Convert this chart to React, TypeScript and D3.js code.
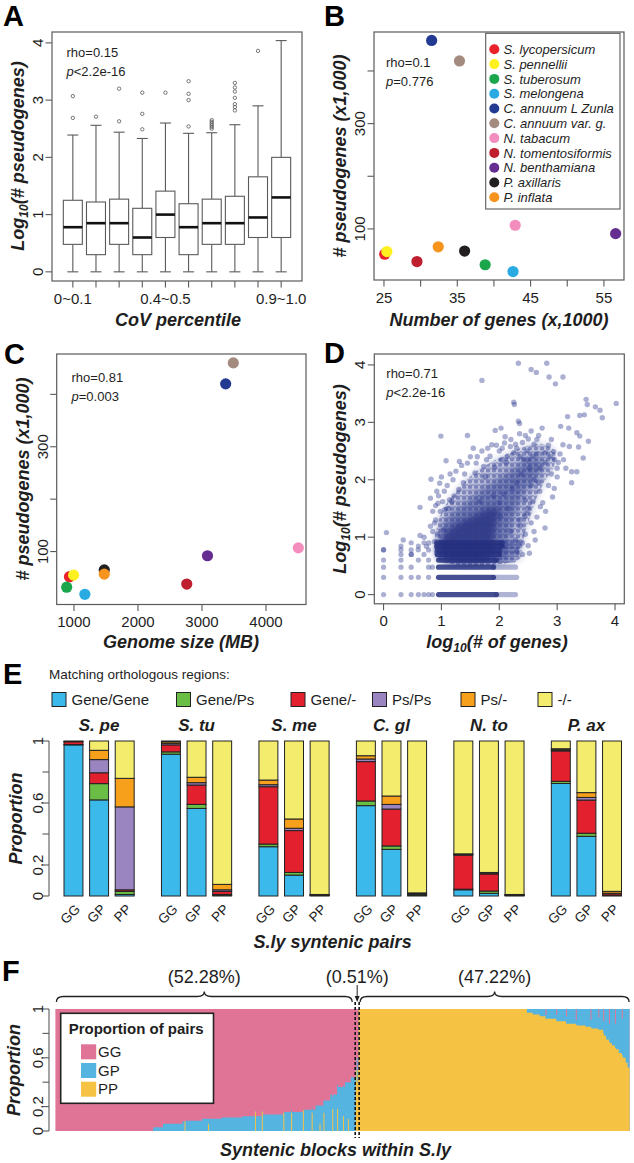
import React from 'react';
import * as d3 from 'd3';

const FONT = '"Liberation Sans", Arial, Helvetica, sans-serif';
const INK = '#1e1e1e';
const FRAME = '#5a5a5a';

// ---------------- Panel A ----------------
const covCats = ['0~0.1', '0.1~0.2', '0.2~0.3', '0.3~0.4', '0.4~0.5', '0.5~0.6', '0.6~0.7', '0.7~0.8', '0.8~0.9', '0.9~1.0'];
const covLabelIdx = [0, 4, 9];
const boxLow = [0, 0, 0, 0, 0, 0, 0, 0, 0, 0];
const boxQ1 = [0.48, 0.30, 0.48, 0.30, 0.60, 0.30, 0.48, 0.48, 0.60, 0.60];
const boxMedian = [0.78, 0.85, 0.85, 0.60, 1.00, 0.78, 0.85, 0.85, 0.95, 1.30];
const boxQ3 = [1.25, 1.22, 1.27, 1.11, 1.41, 1.19, 1.27, 1.32, 1.66, 2.00];
const boxHigh = [2.39, 2.56, 2.44, 2.33, 2.60, 2.42, 2.43, 2.57, 2.90, 4.04];
const boxOutliers = [
  [2.69, 3.07],
  [2.71],
  [2.63, 3.20],
  [2.49, 2.76, 3.13],
  [3.13],
  [2.54, 3.00, 3.11, 3.33],
  [2.50, 2.53, 2.56, 2.59, 2.62, 2.65],
  [2.82, 2.88, 2.93, 3.04, 3.15, 3.22, 3.30],
  [3.86],
  [],
];

// ---------------- Panels B, C ----------------
const species = ['S. lycopersicum', 'S. pennellii', 'S. tuberosum', 'S. melongena', 'C. annuum L Zunla', 'C. annuum var. g.', 'N. tabacum', 'N. tomentosiformis', 'N. benthamiana', 'P. axillaris', 'P. inflata'];
const speciesColors = ['#E8212B', '#FFF01F', '#1BA64C', '#29ABE2', '#233A92', '#A48B80', '#F28DBE', '#BE1E2D', '#652D90', '#231F20', '#F7941E'];
const geneCountK = [25.1, 25.4, 38.8, 42.6, 31.5, 35.3, 42.9, 29.5, 56.6, 36.0, 32.4];
const pseudogeneK = [52, 57, 32, 19, 458, 419, 107, 38, 91, 58, 66];
const genomeSizeMB = [930, 994, 886, 1170, 3370, 3489, 4505, 2762, 3086, 1473, 1473];
const pseudogeneKC = [52, 55, 32, 18.5, 420, 460, 107, 38, 92, 65, 57];

// ---------------- Panel D ----------------
const dScatter = [
  [2.33, 4.03], [2.82, 4.03], [2.55, 3.92], [2.64, 3.87], [2.86, 3.79], [3.10, 3.79], [2.97, 3.67], [1.70, 3.73],
  [4.02, 3.33], [3.50, 3.40], [3.52, 3.31], [3.66, 3.27], [3.74, 3.21], [3.78, 3.08], [2.25, 3.35], [2.26, 3.31],
  [2.33, 3.02], [2.35, 2.98], [3.18, 3.10], [3.39, 3.12], [3.47, 3.13], [0.99, 2.76], [1.45, 2.77], [1.93, 2.86],
  [2.03, 2.90], [2.45, 2.77], [2.68, 2.77], [2.74, 2.90], [3.06, 2.93], [3.20, 2.90], [3.34, 2.82], [3.39, 2.76],
  [3.54, 2.67], [3.37, 2.57], [3.21, 2.58], [3.10, 2.61], [1.87, 2.61], [2.09, 2.64], [2.19, 2.58], [2.30, 2.55],
  [2.50, 2.71], [1.08, 2.33], [0.63, 1.52], [0.05, 1.08], [0.34, 0.95], [0.63, 1.03], [0.82, 2.01], [0.97, 1.94],
  [0.92, 1.80], [0.81, 1.68], [0.94, 1.59], [1.05, 1.80], [1.14, 1.65], [1.30, 1.83], [1.31, 2.32], [1.45, 2.29],
  [1.60, 2.29], [1.73, 2.23], [1.84, 2.41], [2.04, 2.35], [2.14, 2.41], [2.25, 2.47], [2.42, 2.35], [2.58, 2.41],
  [2.79, 2.47], [2.94, 2.49], [3.11, 2.35], [3.25, 2.14], [3.34, 2.14], [3.45, 2.38], [3.25, 1.95], [2.79, 1.16],
  [2.71, 1.53], [2.50, 1.51], [2.02, 1.36], [1.73, 1.24], [1.44, 1.24], [1.04, 1.13],
  [0.0, 0.78], [0.81, 1.19], [0.85, 1.10], [0.74, 0.84], [0.88, 0.92], [0.90, 1.30], [0.70, 1.00], [0.78, 0.90],
  [0.85, 1.45], [0.60, 0.78], [0.48, 0.70], [0.30, 0.78], [0.90, 1.55], [0.95, 1.72], [1.00, 2.05], [1.20, 2.00],
  [1.10, 1.90], [1.25, 2.15], [1.40, 2.10], [1.50, 2.40], [1.55, 2.55], [1.70, 2.50], [1.80, 2.55], [1.95, 2.60],
  [2.00, 2.50], [2.10, 2.75], [2.20, 2.70], [2.35, 2.80], [2.40, 2.65], [2.55, 2.85], [2.60, 2.62], [2.65, 2.70],
  [2.85, 2.60], [2.90, 2.70], [2.95, 2.35], [3.00, 2.20], [3.05, 2.45], [2.90, 2.10], [2.85, 1.90], [2.95, 1.85],
  [3.00, 2.05], [2.70, 1.80], [2.75, 1.60], [2.65, 1.35], [2.55, 1.25], [2.45, 1.05], [2.60, 1.10], [2.40, 0.90],
  [2.50, 0.85], [2.30, 0.75], [2.40, 0.70], [2.35, 1.30], [2.20, 1.10], [2.28, 0.95], [2.15, 1.50], [2.00, 1.60],
  [2.45, 1.65], [2.55, 1.90], [2.30, 1.95], [2.60, 2.00], [2.70, 2.20], [2.80, 2.30], [2.65, 2.45], [2.50, 2.35],
  [1.15, 2.10], [1.35, 2.25], [1.62, 2.40], [1.78, 2.35], [2.05, 2.55], [2.28, 2.62], [2.48, 2.50], [2.88, 2.40],
  [3.02, 2.30], [3.15, 2.20], [2.92, 1.70], [2.80, 1.45], [2.62, 0.95], [0.98, 1.45], [1.02, 1.62], [0.88, 1.25],
  [1.12, 1.50], [1.22, 1.72], [1.38, 1.95], [1.58, 2.12], [1.76, 2.05], [1.92, 2.22], [2.12, 2.30], [2.36, 2.40],
  [2.52, 2.20], [2.38, 2.10], [2.22, 1.85], [2.08, 1.75], [1.90, 1.72], [1.66, 1.62], [2.48, 1.42], [2.36, 1.20],
  [2.52, 0.72], [2.44, 1.36], [0.93, 1.05], [0.95, 0.85], [1.06, 1.48], [1.18, 1.62], [2.58, 1.62], [2.68, 1.95],
];
const dCoreOuter = [[0.92, 0.62], [0.90, 1.05], [0.97, 1.35], [1.10, 1.60], [1.30, 1.85], [1.55, 2.10], [1.85, 2.30], [2.15, 2.45], [2.45, 2.58], [2.75, 2.62], [2.95, 2.50], [2.95, 2.25], [2.80, 2.00], [2.65, 1.70], [2.55, 1.40], [2.45, 1.10], [2.40, 0.85], [2.35, 0.62]];
const dCoreInner = [[0.97, 0.62], [0.97, 1.10], [1.10, 1.35], [1.35, 1.55], [1.65, 1.80], [1.95, 2.00], [2.25, 2.20], [2.55, 2.38], [2.75, 2.35], [2.70, 2.10], [2.45, 1.80], [2.30, 1.45], [2.20, 1.10], [2.15, 0.85], [2.10, 0.62]];
const dCoreDense = [[1.00, 0.62], [1.02, 1.00], [1.20, 1.20], [1.50, 1.35], [1.80, 1.50], [2.00, 1.50], [1.95, 1.20], [1.90, 0.90], [1.85, 0.62]];
const bandPseudoCount = [1, 2, 3, 4, 5, 6, 7, 8];
const bandDenseStart = [0.95, 0.95, 0.95, 0.95, 0.93, 0.93, 0.92, 0.92];
const bandDenseEnd = [1.95, 1.9, 1.9, 1.95, 2.0, 2.0, 2.05, 2.05];
const bandTailEnd = [2.28, 2.3, 2.28, 2.25, 2.3, 2.3, 2.35, 2.35];
const bandLowGenes = [[1, 2, 3, 4, 5, 6, 7], [1, 2, 3, 4, 6], [1, 2, 3, 6, 7], [1, 2, 4, 6], [2, 3, 5], [1, 3, 6], [2, 4], [3, 5]];

// ---------------- Panel E ----------------
const eCategories = ['Gene/Gene', 'Gene/Ps', 'Gene/-', 'Ps/Ps', 'Ps/-', '-/-'];
const eColors = ['#3CB9EB', '#6BBE45', '#E2202E', '#9B85C1', '#F6A01B', '#F3EC6C'];
const eGroups = ['S. pe', 'S. tu', 'S. me', 'C. gl', 'N. to', 'P. ax'];
const ePairs = ['GG', 'GP', 'PP'];
const eSpe = [[0.975, 0.002, 0.018, 0.002, 0.003, 0], [0.62, 0.105, 0.07, 0.085, 0.06, 0.06], [0.01, 0.02, 0.01, 0.535, 0.184, 0.241]];
const eStu = [[0.915, 0.015, 0.045, 0.01, 0.01, 0.005], [0.565, 0.026, 0.125, 0.015, 0.035, 0.234], [0.005, 0.005, 0.02, 0.01, 0.035, 0.925]];
const eSme = [[0.318, 0.017, 0.37, 0.013, 0.03, 0.252], [0.135, 0.017, 0.27, 0.015, 0.06, 0.503], [0.003, 0.001, 0.003, 0.001, 0.002, 0.99]];
const eCgl = [[0.583, 0.03, 0.254, 0.017, 0.021, 0.095], [0.301, 0.022, 0.238, 0.03, 0.054, 0.355], [0.005, 0.002, 0.005, 0.002, 0.006, 0.98]];
const eNto = [[0.04, 0.004, 0.22, 0.003, 0.005, 0.728], [0.017, 0.015, 0.11, 0.005, 0.005, 0.848], [0.003, 0.001, 0.003, 0.001, 0.002, 0.99]];
const ePax = [[0.726, 0.014, 0.196, 0.007, 0.007, 0.05], [0.385, 0.02, 0.214, 0.017, 0.031, 0.333], [0.003, 0.002, 0.01, 0.003, 0.012, 0.97]];

// ---------------- Panel F ----------------
const fCategories = ['GG', 'GP', 'PP'];
const fColors = ['#E07497', '#56B4E1', '#F6C244'];
const fSectionLabels = ['(52.28%)', '(0.51%)', '(47.22%)'];
// runs: [number of blocks, GP proportion, PP proportion]; GG = remainder
const fLeftRuns = [
  [100, 0, 0], [10, 0.03, 0], [20, 0.06, 0], [2, 0.08, 0], [1, 0, 0.08], [17, 0.085, 0],
  [6, 0.1, 0], [1, 0.04, 0.06], [13, 0.1, 0], [21, 0.11, 0], [13, 0.12, 0], [1, 0, 0.16], [6, 0.12, 0], [1, 0, 0.16],
  [21, 0.135, 0], [1, 0, 0.15], [7, 0.155, 0], [1, 0.02, 0.15], [11, 0.155, 0], [1, 0, 0.17], [8, 0.175, 0],
  [1, 0.04, 0.15], [3, 0.175, 0], [4, 0.21, 0], [1, 0.15, 0.06], [3, 0.21, 0], [1, 0.1, 0.15], [6, 0.25, 0],
  [2, 0.3, 0], [1, 0.1, 0.18], [4, 0.3, 0], [1, 0.2, 0.18], [5, 0.36, 0], [1, 0.25, 0.12], [1, 0.36, 0],
  [3, 0.4, 0], [1, 0.3, 0.1], [2, 0.4, 0], [5, 0.44, 0],
];
const fMidRuns = [[1, 0, 0.5], [1, 0.2, 0.4], [1, 0, 0.5]];
const fRightRuns = [
  [172, 0, 1], [6, 0.03, 0.97], [7, 0.045, 0.955], [6, 0.06, 0.94], [1, 0.03, 0.92], [10, 0.08, 0.92],
  [1, 0.05, 0.9], [9, 0.1, 0.9], [1, 0.06, 0.88], [9, 0.12, 0.88], [1, 0.04, 0.87], [9, 0.135, 0.865],
  [5, 0.145, 0.855], [1, 0.06, 0.85], [7, 0.16, 0.84], [1, 0.1, 0.83], [4, 0.17, 0.83], [1, 0.1, 0.8],
  [2, 0.22, 0.78], [3, 0.25, 0.75], [1, 0.15, 0.73], [2, 0.28, 0.72], [3, 0.3, 0.7], [1, 0.2, 0.68],
  [3, 0.33, 0.67], [3, 0.36, 0.64], [1, 0.3, 0.62], [3, 0.4, 0.6], [2, 0.44, 0.56], [2, 0.48, 0.52],
];

// ---------------- helpers ----------------
function YAxis({ scale, x, ticks, labels, gap = 9, size = 15, line = false }: any) {
  return (
    <g>
      {line && <line x1={x} x2={x} y1={scale(ticks[0])} y2={scale(ticks[ticks.length - 1])} stroke={FRAME} strokeWidth={1.1} />}
      {ticks.map((t: number, i: number) => (
        <line key={i} x1={x} x2={x - 6.5} y1={scale(t)} y2={scale(t)} stroke={FRAME} strokeWidth={1.1} />
      ))}
      {labels.map((l: any, i: number) => (
        <text key={'l' + i} transform={`translate(${x - gap},${scale(l[0])}) rotate(-90)`} textAnchor="middle" fontSize={size} fill={INK}>{l[1]}</text>
      ))}
    </g>
  );
}

function XAxis({ scale, y, ticks, labels, off = 22.5, size = 15 }: any) {
  return (
    <g>
      {ticks.map((t: number, i: number) => (
        <line key={i} x1={scale(t)} x2={scale(t)} y1={y} y2={y + 6.5} stroke={FRAME} strokeWidth={1.1} />
      ))}
      {labels.map((l: any, i: number) => (
        <text key={'l' + i} x={scale(l[0])} y={y + off} textAnchor="middle" fontSize={size} fill={INK}>{l[1]}</text>
      ))}
    </g>
  );
}

function Frame({ x0, x1, y0, y1 }: any) {
  return <rect x={x0} y={y0} width={x1 - x0} height={y1 - y0} fill="none" stroke={FRAME} strokeWidth={1.2} />;
}

function Title({ x, y, children, rotate = false, size = 18 }: any) {
  return (
    <text transform={`translate(${x},${y})${rotate ? ' rotate(-90)' : ''}`} textAnchor="middle" fontSize={size} fontWeight="bold" fontStyle="italic" fill={INK}>{children}</text>
  );
}

function Stat({ x, y, a, b, sep }: any) {
  return (
    <g fontSize={13} fill={INK}>
      <text x={x} y={y}>{a}</text>
      <text x={x} y={y + 19}><tspan fontStyle="italic">p</tspan>{sep}{b}</text>
    </g>
  );
}

function expandRuns(runs: number[][]) {
  return runs.map(r => ({ n: r[0], gp: r[1], pp: r[2] }));
}

function brace(x1: number, x2: number, xm: number, yb: number, ym: number, yt: number) {
  const r = 7;
  return `M${x1},${yb} Q${x1},${ym} ${x1 + r},${ym} L${xm - r},${ym} Q${xm},${ym} ${xm},${yt} Q${xm},${ym} ${xm + r},${ym} L${x2 - r},${ym} Q${x2},${ym} ${x2},${yb}`;
}

export default function App() {
  const W = 634, H = 1163;

  const xA = d3.scaleLinear().domain([0.1, 10.9]).range([52, 302]);
  const yA = d3.scaleLinear().domain([-0.16, 4.19]).range([281, 32]);
  const xB = d3.scaleLinear().domain([23.64, 57.74]).range([374, 624]);
  const yB = d3.scaleLinear().domain([3, 474]).range([280, 32]);
  const xC = d3.scaleLinear().domain([730, 4625]).range([56.7, 306]);
  const yC = d3.scaleLinear().domain([-1, 477]).range([604.5, 354]);
  const xD = d3.scaleLinear().domain([-0.16, 4.16]).range([374.3, 624.3]);
  const yD = d3.scaleLinear().domain([-0.16, 4.19]).range([603.8, 354]);

  const xE = d3.scaleBand<string>().domain(eGroups).range([64, 621.5]).paddingInner(0.28).paddingOuter(0);
  const xEi = d3.scaleBand<string>().domain(ePairs).range([0, xE.bandwidth()]).paddingInner(0.26);
  const yE = d3.scaleLinear().domain([0, 1]).range([896, 741]);
  const eData = [eSpe, eStu, eSme, eCgl, eNto, ePax];

  const fRuns = [...expandRuns(fLeftRuns), ...expandRuns(fMidRuns), ...expandRuns(fRightRuns)];
  const nLeft = d3.sum(fLeftRuns, r => r[0]);
  const nMid = d3.sum(fMidRuns, r => r[0]);
  const nTotal = d3.sum(fRuns, r => r.n);
  const xF = d3.scaleBand<number>().domain(d3.range(nTotal)).range([55.4, 629.6]).padding(0);
  const yF = d3.scaleLinear().domain([0, 1]).range([1131, 1009]);
  const stepF = xF.step();
  let fStart = 0;
  const fSteps: any[] = [];
  fRuns.forEach(r => {
    fSteps.push({ x: xF(fStart) as number, pp: r.pp, top: r.pp + r.gp });
    fStart += r.n;
  });
  const lastF = fSteps[fSteps.length - 1];
  fSteps.push({ x: xF.range()[1], pp: lastF.pp, top: lastF.top });
  const areaGP = d3.area<any>().x(d => d.x).y0(yF(0)).y1(d => yF(d.top)).curve(d3.curveStepAfter);
  const areaPP = d3.area<any>().x(d => d.x).y0(yF(0)).y1(d => yF(d.pp)).curve(d3.curveStepAfter);

  const leftX0 = (xF(0) as number) + 1;
  const leftX1 = (xF(nLeft) as number) - 3.5;
  const midX = (xF(nLeft) as number) + nMid * stepF / 2;
  const dashL = (xF(nLeft) as number) - 0.5;
  const dashR = (xF(nLeft + nMid) as number) + 0.5;
  const rightX0 = (xF(nLeft + nMid) as number) + 1.5;
  const rightX1 = (xF(nTotal - 1) as number) + stepF - 0.5;

  const curveClosed = d3.line<number[]>().x(d => xD(d[0])).y(d => yD(d[1])).curve(d3.curveCatmullRomClosed.alpha(0.5));
  const dColor = '#2C3A8E';

  return (
    <svg width={W} height={H} style={{ position: 'absolute', left: 0, top: 0 }} fontFamily={FONT}>
      <defs>
        <filter id="soft" x="-10%" y="-10%" width="120%" height="120%">
          <feGaussianBlur stdDeviation="3.2" />
        </filter>
        <pattern id="dots" width="6" height="5.5" patternUnits="userSpaceOnUse">
          <circle cx="2" cy="2.7" r="2.3" fill={dColor} fillOpacity="0.45" />
          <circle cx="5" cy="0" r="1.8" fill={dColor} fillOpacity="0.3" />
        </pattern>
        <clipPath id="clipD"><rect x={374.3} y={354} width={250} height={249.8} /></clipPath>
      </defs>
      <rect width={W} height={H} fill="#fff" />

      {/* Panel letters */}
      <g fontSize={29} fontWeight="bold" fill="#000">
        <text x={3} y={26}>A</text>
        <text x={324} y={26}>B</text>
        <text x={4} y={364}>C</text>
        <text x={324} y={363}>D</text>
        <text x={3} y={684}>E</text>
        <text x={2} y={981}>F</text>
      </g>

      {/* ---------- A ---------- */}
      <g>
        {covCats.map((c, i) => {
          const cx = xA(i + 1);
          const hw = 9.5, cw = 5.5;
          return (
            <g key={c}>
              <line x1={cx} x2={cx} y1={yA(boxQ3[i])} y2={yA(boxHigh[i])} stroke={FRAME} strokeWidth={1.1} />
              <line x1={cx} x2={cx} y1={yA(boxQ1[i])} y2={yA(boxLow[i])} stroke={FRAME} strokeWidth={1.1} />
              <line x1={cx - cw} x2={cx + cw} y1={yA(boxHigh[i])} y2={yA(boxHigh[i])} stroke={FRAME} strokeWidth={1.1} />
              <line x1={cx - cw} x2={cx + cw} y1={yA(boxLow[i])} y2={yA(boxLow[i])} stroke={FRAME} strokeWidth={1.1} />
              <rect x={cx - hw} y={yA(boxQ3[i])} width={2 * hw} height={yA(boxQ1[i]) - yA(boxQ3[i])} fill="#fff" stroke={FRAME} strokeWidth={1.1} />
              <line x1={cx - hw} x2={cx + hw} y1={yA(boxMedian[i])} y2={yA(boxMedian[i])} stroke="#111" strokeWidth={2.6} />
              {boxOutliers[i].map((o, k) => (
                <circle key={k} cx={cx} cy={yA(o)} r={1.7} fill="none" stroke="#555" strokeWidth={0.8} />
              ))}
            </g>
          );
        })}
        <Frame x0={52} x1={302} y0={32} y1={281} />
        <YAxis scale={yA} x={52} ticks={[0, 1, 2, 3, 4]} labels={[[0, '0'], [1, '1'], [2, '2'], [3, '3'], [4, '4']]} />
        <XAxis scale={xA} y={281} ticks={d3.range(1, 11)} labels={covLabelIdx.map(i => [i + 1, covCats[i]])} />
        <Stat x={66.5} y={57} a="rho=0.15" b="2.2e-16" sep="<" />
        <Title x={178} y={325.5}>CoV percentile</Title>
        <Title x={24} y={156} rotate>Log<tspan fontSize={12} dy={4}>10</tspan><tspan dy={-4}>(# pseudogenes)</tspan></Title>
      </g>

      {/* ---------- B ---------- */}
      <g>
        <Frame x0={374} x1={624} y0={32} y1={280} />
        {species.map((s, i) => (
          <circle key={s} cx={xB(geneCountK[i])} cy={yB(pseudogeneK[i])} r={5.6} fill={speciesColors[i]} />
        ))}
        <YAxis scale={yB} x={374} ticks={[100, 200, 300, 400]} labels={[[100, '100'], [300, '300']]} />
        <XAxis scale={xB} y={280} ticks={[25, 30, 35, 40, 45, 50, 55]} labels={[[25, '25'], [35, '35'], [45, '45'], [55, '55']]} />
        <Stat x={386} y={66.5} a="rho=0.1" b="0.776" sep="=" />
        <Title x={499} y={325.5}>Number of genes (x,1000)</Title>
        <Title x={346} y={156} rotate># pseudogenes (x1,000)</Title>
        <rect x={485.7} y={33.3} width={134.3} height={175.7} fill="#fff" stroke={FRAME} strokeWidth={1.1} />
        {species.map((s, i) => (
          <g key={'lg' + s}>
            <circle cx={494.3} cy={49.3 + i * 14.8} r={5} fill={speciesColors[i]} />
            <text x={503.5} y={49.3 + i * 14.8 + 4.6} fontSize={13} fontStyle="italic" fill={INK}>{s}</text>
          </g>
        ))}
      </g>

      {/* ---------- C ---------- */}
      <g>
        <Frame x0={56.7} x1={306} y0={354} y1={604.5} />
        {species.map((s, i) => (
          <circle key={s} cx={xC(genomeSizeMB[i])} cy={yC(pseudogeneKC[i])} r={5.6} fill={speciesColors[i]} />
        ))}
        <YAxis scale={yC} x={56.7} ticks={[100, 200, 300, 400]} labels={[[100, '100'], [300, '300']]} />
        <XAxis scale={xC} y={604.5} ticks={[1000, 2000, 3000, 4000]} labels={[[1000, '1000'], [2000, '2000'], [3000, '3000'], [4000, '4000']]} />
        <Stat x={71.5} y={381.8} a="rho=0.81" b="0.003" sep="=" />
        <Title x={181} y={648}>Genome size (MB)</Title>
        <Title x={28.5} y={479} rotate># pseudogenes (x1,000)</Title>
      </g>

      {/* ---------- D ---------- */}
      <g clipPath="url(#clipD)">
        <g filter="url(#soft)">
          <path d={curveClosed(dCoreOuter as any) || ''} fill={dColor} fillOpacity={0.3} />
          <path d={curveClosed(dCoreInner as any) || ''} fill={dColor} fillOpacity={0.5} />
          <path d={curveClosed(dCoreDense as any) || ''} fill="#1F2B7A" fillOpacity={0.75} />
        </g>
        <path d={curveClosed(dCoreOuter as any) || ''} fill="url(#dots)" />
        {bandPseudoCount.map((n, i) => {
          const y = yD(Math.log10(n));
          return (
            <g key={'band' + n}>
              <line x1={xD(bandDenseEnd[i])} x2={xD(bandTailEnd[i])} y1={y} y2={y} stroke={dColor} strokeOpacity={0.38} strokeWidth={5.2} strokeLinecap="round" />
              <line x1={xD(bandDenseStart[i])} x2={xD(bandDenseEnd[i])} y1={y} y2={y} stroke="#24307F" strokeOpacity={0.85} strokeWidth={5.2} strokeLinecap="round" />
              {bandLowGenes[i].map(g => (
                <circle key={g} cx={xD(Math.log10(g))} cy={y} r={2.6} fill={dColor} fillOpacity={0.4} />
              ))}
            </g>
          );
        })}
        {dScatter.map((p, i) => (
          <circle key={'d' + i} cx={xD(p[0])} cy={yD(p[1])} r={2.7} fill={dColor} fillOpacity={0.4} />
        ))}
      </g>
      <g>
        <Frame x0={374.3} x1={624.3} y0={354} y1={603.8} />
        <YAxis scale={yD} x={374.3} ticks={[0, 1, 2, 3, 4]} labels={[[0, '0'], [1, '1'], [2, '2'], [3, '3'], [4, '4']]} />
        <XAxis scale={xD} y={603.8} ticks={[0, 1, 2, 3, 4]} labels={[[0, '0'], [1, '1'], [2, '2'], [3, '3'], [4, '4']]} />
        <Stat x={386.3} y={377.8} a="rho=0.71" b="2.2e-16" sep="<" />
        <Title x={497} y={648}>log<tspan fontSize={12} dy={4}>10</tspan><tspan dy={-4}>(# of genes)</tspan></Title>
        <Title x={346} y={479} rotate>Log<tspan fontSize={12} dy={4}>10</tspan><tspan dy={-4}>(# pseudogenes)</tspan></Title>
      </g>

      {/* ---------- E ---------- */}
      <g>
        <text x={49} y={679} fontSize={13.5} fill={INK}>Matching orthologous regions:</text>
        {eCategories.map((c, i) => {
          const lx = [52, 176.5, 291, 372.5, 461, 538][i];
          return (
            <g key={c}>
              <rect x={lx} y={692.5} width={14} height={14} fill={eColors[i]} stroke="#222" strokeWidth={1} />
              <text x={lx + 19.5} y={704.5} fontSize={15} fill={INK}>{c}</text>
            </g>
          );
        })}
        {eGroups.map((g, gi) => (
          <g key={g}>
            <text x={(xE(g) as number) + xE.bandwidth() / 2} y={731} textAnchor="middle" fontSize={17} fontWeight="bold" fontStyle="italic" fill={INK}>{g}</text>
            {ePairs.map((p, pi) => {
              const x = (xE(g) as number) + (xEi(p) as number);
              const bw = xEi.bandwidth();
              let acc = 0;
              return (
                <g key={p}>
                  {eData[gi][pi].map((v, ci) => {
                    const y0 = acc; acc += v;
                    return <rect key={ci} x={x} y={yE(Math.min(acc, 1))} width={bw} height={Math.max(0, yE(y0) - yE(Math.min(acc, 1)))} fill={eColors[ci]} stroke="#222" strokeWidth={1} />;
                  })}
                  <text transform={`translate(${x + bw / 2 + 7.5},${910}) rotate(-45)`} textAnchor="end" fontSize={13.5} fill={INK}>{p}</text>
                </g>
              );
            })}
          </g>
        ))}
        <YAxis scale={yE} x={49} ticks={[0, 0.2, 0.4, 0.6, 0.8, 1]} labels={[[0, '0'], [0.2, '0.2'], [0.6, '0.6'], [1, '1']]} gap={6} line />
        <Title x={332.6} y={947.5}>S.ly syntenic pairs</Title>
        <Title x={21.5} y={818.5} rotate>Proportion</Title>
      </g>

      {/* ---------- F ---------- */}
      <g>
        <g fontSize={18} fill={INK} textAnchor="middle">
          <text x={(leftX0 + leftX1) / 2} y={983}>{fSectionLabels[0]}</text>
          <text x={midX} y={983}>{fSectionLabels[1]}</text>
          <text x={(rightX0 + rightX1) / 2} y={983}>{fSectionLabels[2]}</text>
        </g>
        <path d={brace(leftX0, leftX1, (leftX0 + leftX1) / 2, 1002, 996.5, 991.5)} fill="none" stroke="#222" strokeWidth={1.3} />
        <path d={brace(rightX0, rightX1, (rightX0 + rightX1) / 2, 1002, 996.5, 991.5)} fill="none" stroke="#222" strokeWidth={1.3} />
        <line x1={midX} x2={midX} y1={985} y2={998} stroke="#222" strokeWidth={1} />
        <path d={`M${midX - 2.5},${996} L${midX + 2.5},${996} L${midX},${1002} Z`} fill="#222" />
        <rect x={xF.range()[0]} y={yF(1)} width={xF.range()[1] - xF.range()[0]} height={yF(0) - yF(1)} fill={fColors[0]} />
        <path d={areaGP(fSteps) || ''} fill={fColors[1]} />
        <path d={areaPP(fSteps) || ''} fill={fColors[2]} />
        <line x1={dashL} x2={dashL} y1={1002} y2={1138} stroke="#111" strokeWidth={1.6} strokeDasharray="3,2" />
        <line x1={dashR} x2={dashR} y1={1002} y2={1138} stroke="#111" strokeWidth={1.6} strokeDasharray="3,2" />
        <YAxis scale={yF} x={49} ticks={[0, 0.2, 0.4, 0.6, 0.8, 1]} labels={[[0, '0'], [0.2, '0.2'], [0.6, '0.6'], [1, '1']]} gap={6} line />
        <rect x={60.7} y={1013.3} width={152.8} height={90} fill="#fff" stroke="#222" strokeWidth={1.6} />
        <text x={68.7} y={1033.5} fontSize={15} fontWeight="bold" fill={INK}>Proportion of pairs</text>
        {fCategories.map((c, i) => (
          <g key={c}>
            <rect x={81} y={1044.3 + i * 18.7} width={15.2} height={15} fill={fColors[i]} />
            <text x={98} y={1057 + i * 18.7} fontSize={15} fill={INK}>{c}</text>
          </g>
        ))}
        <Title x={335.6} y={1156}>Syntenic blocks within S.ly</Title>
        <Title x={20} y={1070} rotate>Proportion</Title>
      </g>
    </svg>
  );
}
